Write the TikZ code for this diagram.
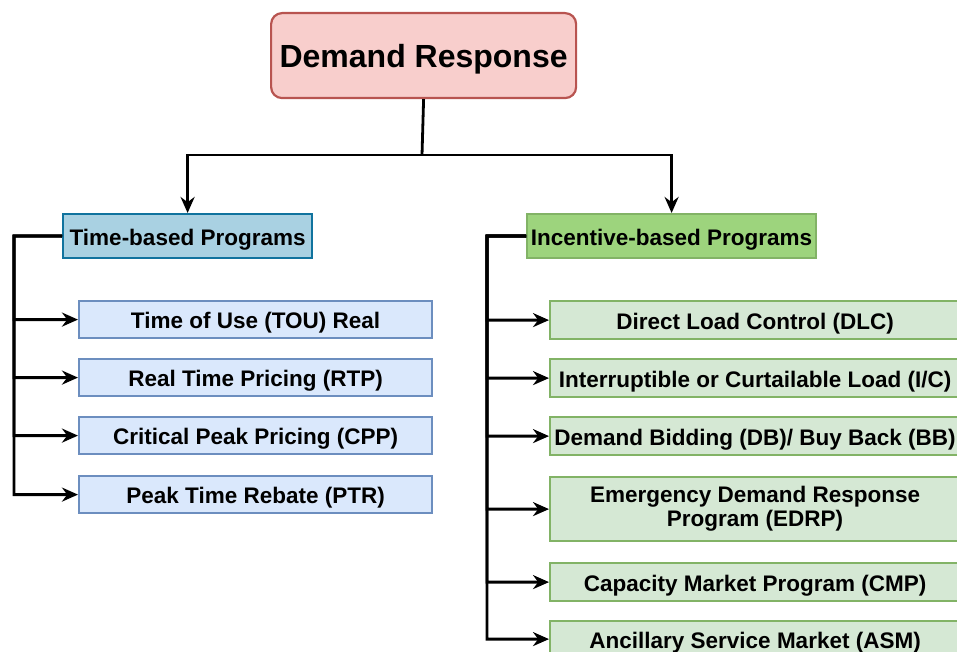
\documentclass[tikz,border=0pt]{standalone}
\usepackage{fontspec}
\setmainfont{Liberation Sans}
\usetikzlibrary{arrows.meta}
\definecolor{rootfill}{HTML}{F8CECC}
\definecolor{rootline}{HTML}{B85450}
\definecolor{tbfill}{HTML}{A9D1E2}
\definecolor{tbline}{HTML}{10739E}
\definecolor{ibfill}{HTML}{9DD47D}
\definecolor{ibline}{HTML}{82B366}
\definecolor{bluefill}{HTML}{DAE8FC}
\definecolor{blueline}{HTML}{6C8EBF}
\definecolor{greenfill}{HTML}{D5E8D4}
\definecolor{greenline}{HTML}{82B366}
\begin{document}
\begin{tikzpicture}[x=1pt,y=-1pt,
  box/.style={draw, line width=2.2pt, inner sep=0pt, anchor=north west,
    font=\fontsize{22.5}{24}\selectfont\bfseries},
  oneline/.style={text height=18pt, text depth=0pt},
  rootbox/.style={box, rounded corners=11pt, fill=rootfill, draw=rootline,
    font=\fontsize{32}{34}\selectfont\bfseries, text height=24pt, text depth=0pt},
  catblue/.style={box, oneline, fill=tbfill, draw=tbline},
  catgreen/.style={box, oneline, fill=ibfill, draw=ibline},
  itemblue/.style={box, oneline, fill=bluefill, draw=blueline},
  itemgreen/.style={box, fill=greenfill, draw=greenline},
  link/.style={line width=2.8pt},
  arr/.style={link, -{Stealth[length=16pt,width=14pt]}}]
\useasboundingbox (0,0) rectangle (957,652);

% root
\node[rootbox, minimum width=305pt, minimum height=85pt] (top) at (270,12) {Demand Response};

% categories
\node[catblue, minimum width=249pt, minimum height=44pt] (tb) at (62,213) {Time-based Programs};
\node[catgreen, minimum width=289pt, minimum height=44pt] (ib) at (526,213) {Incentive-based Programs};

% time-based items
\node[itemblue, minimum width=353pt, minimum height=37pt] (t1) at (78,300) {Time of Use (TOU) Real};
\node[itemblue, minimum width=353pt, minimum height=37pt] (t2) at (78,358) {Real Time Pricing (RTP)};
\node[itemblue, minimum width=353pt, minimum height=37pt] (t3) at (78,416) {Critical Peak Pricing (CPP)};
\node[itemblue, minimum width=353pt, minimum height=37pt] (t4) at (78,475) {Peak Time Rebate (PTR)};

% incentive-based items
\node[itemgreen, oneline, minimum width=410pt, minimum height=38pt] (i1) at (549,300) {Direct Load Control (DLC)};
\node[itemgreen, oneline, minimum width=410pt, minimum height=38pt] (i2) at (549,358) {Interruptible or Curtailable Load (I/C)};
\node[itemgreen, oneline, minimum width=410pt, minimum height=38pt] (i3) at (549,416) {Demand Bidding (DB)/ Buy Back (BB)};
\node[itemgreen, align=center, minimum width=410pt, minimum height=64pt] (i4) at (549,476) {Emergency Demand Response\\Program (EDRP)};
\node[itemgreen, oneline, minimum width=410pt, minimum height=38pt] (i5) at (549,562) {Capacity Market Program (CMP)};
\node[itemgreen, oneline, minimum width=410pt, minimum height=36pt] (i6) at (549,620) {Ancillary Service Market (ASM)};

% tree connectors
\coordinate (split) at (422,155);
\coordinate (lspine) at (14,236);
\coordinate (rspine) at (487,236);

\draw[link] (top.south) -- (split);
\draw[arr] (split) -| (tb.north);
\draw[arr] (split) -| (ib.north);

\foreach \n in {t1,t2,t3,t4}
  \draw[arr] (tb.west) -- (lspine) |- (\n.west);
\foreach \n in {i1,i2,i3,i4,i5,i6}
  \draw[arr] (ib.west) -- (rspine) |- (\n.west);
\end{tikzpicture}
\end{document}
